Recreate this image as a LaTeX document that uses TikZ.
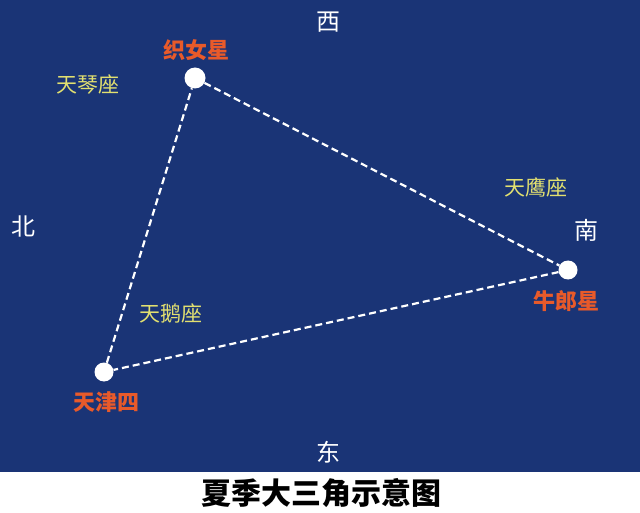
\documentclass[tikz,border=0pt]{standalone}
\usepackage{fontspec}
\newfontfamily\cjk{Noto Sans CJK SC}
\definecolor{skyblue}{HTML}{1A3476}
\definecolor{starname}{HTML}{E85A2A}
\definecolor{constel}{HTML}{E2E070}
\tikzset{
  star/.style={circle,fill=white,inner sep=0pt,minimum size=#1},
  starlabel/.style={text=starname,font=\cjk\fontsize{22}{22}\selectfont\bfseries,inner sep=0pt},
  conlabel/.style={text=constel,font=\cjk\fontsize{21}{21}\selectfont,inner sep=0pt},
  dirlabel/.style={text=white,font=\cjk\fontsize{24}{24}\selectfont,inner sep=0pt},
  link/.style={white,line width=2.2pt,dash pattern=on 7pt off 4pt}
}
\begin{document}
\begin{tikzpicture}[x=1pt,y=-1pt]
\fill[white] (0,0) rectangle (640,513);
\fill[skyblue] (0,0) rectangle (640,472);
\useasboundingbox (0,0) rectangle (640,513);
\node[star=21pt] (vega) at (195,78) {};
\node[star=19pt] (altair) at (568,270) {};
\node[star=19pt] (deneb) at (104,372) {};
\draw[link] (vega) -- (altair);
\draw[link] (altair) -- (deneb);
\draw[link] (deneb) -- (vega);
\node[starlabel] (lv) at (196,50) {织女星};
\node[starlabel] (la) at (566,301) {牛郎星};
\node[starlabel] (ld) at (106,402) {天津四};
\node[conlabel] (lyra) at (88,85) {天琴座};
\node[conlabel] (aql) at (536,187) {天鹰座};
\node[conlabel] (cyg) at (171,313) {天鹅座};
\node[dirlabel] (w) at (328,22) {西};
\node[dirlabel] (n) at (24,226) {北};
\node[dirlabel] (s) at (586,230) {南};
\node[dirlabel] (e) at (328,452) {东};
\node[font=\cjk\fontsize{30}{30}\selectfont\bfseries,text=black,inner sep=0pt] (cap) at (321,493) {夏季大三角示意图};
\end{tikzpicture}
\end{document}
